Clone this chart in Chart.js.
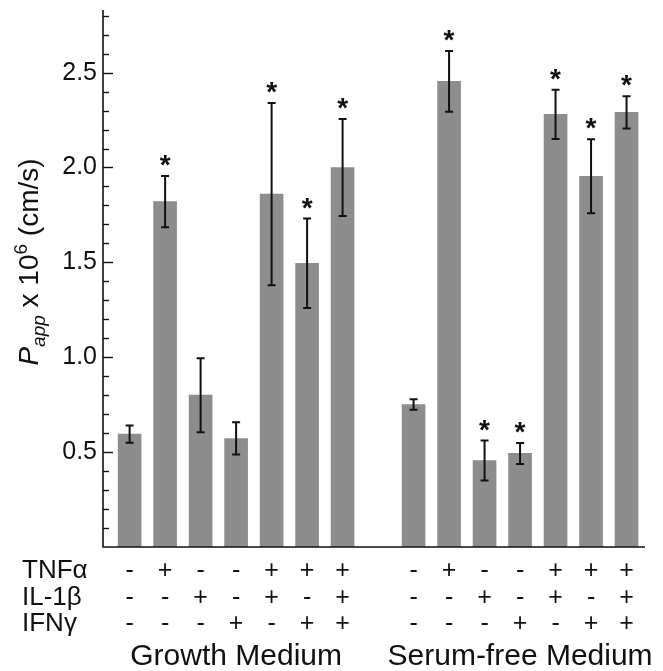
<!DOCTYPE html>
<html>
<head>
<meta charset="utf-8">
<script src="https://cdn.jsdelivr.net/npm/chart.js@4.4.1/dist/chart.umd.min.js"></script>
<style>
  html, body { margin: 0; padding: 0; background: #fff; }
  #wrap { width: 663px; height: 671px; position: relative; }
</style>
</head>
<body>
<div id="wrap"><canvas id="papp-graph"></canvas></div>
<script>
// groups and treatment table (rows under the bars)
const groups = ["Growth Medium", "Serum-free Medium"]
const rowNames = ["TNF\u03b1", "IL-1\u03b2", "IFN\u03b3"]
const tnf = ["-", "+", "-", "-", "+", "+", "+"]
const il1 = ["-", "-", "+", "-", "+", "-", "+"]
const ifn = ["-", "-", "-", "+", "-", "+", "+"]

// Papp x 10^6 (cm/s), mean and error
const growthMean = [0.595, 1.82, 0.80, 0.572, 1.86, 1.495, 2.00]
const growthErr = [0.045, 0.135, 0.195, 0.085, 0.48, 0.236, 0.256]
const growthSig = [false, true, false, false, true, true, true]

const serumMean = [0.751, 2.454, 0.456, 0.493, 2.28, 1.954, 2.291]
const serumErr = [0.028, 0.16, 0.105, 0.055, 0.13, 0.195, 0.085]
const serumSig = [false, true, true, true, true, true, true]

const yLabelTicks = [0.5, 1.0, 1.5, 2.0, 2.5]

const FONT = "'Liberation Sans', Arial, sans-serif"

// one empty slot between the two groups
const points = []
growthMean.forEach((v, i) => points.push({ x: i + 1, y: v, err: growthErr[i], sig: growthSig[i], g: 0, k: i }))
serumMean.forEach((v, i) => points.push({ x: i + 9, y: v, err: serumErr[i], sig: serumSig[i], g: 1, k: i }))

const extras = {
    id: "extras",
    afterDatasetsDraw(chart) {
        const ctx = chart.ctx
        const area = chart.chartArea
        const ys = chart.scales.y
        const meta = chart.getDatasetMeta(0)
        ctx.save()

        // axes lines
        ctx.strokeStyle = "#111"
        ctx.lineWidth = 1.6
        ctx.beginPath()
        ctx.moveTo(area.left, area.top)
        ctx.lineTo(area.left, area.bottom)
        ctx.lineTo(area.right, area.bottom)
        ctx.stroke()

        // inward ticks, 0.1 minor / 0.5 major
        ctx.lineWidth = 1.4
        for (let k = 1; k <= 28; k++) {
            const py = Math.round(ys.getPixelForValue(k / 10)) + 0.5
            const len = k % 5 === 0 ? 10 : 6
            ctx.beginPath()
            ctx.moveTo(area.left, py)
            ctx.lineTo(area.left + len, py)
            ctx.stroke()
        }

        // error bars + asterisks
        meta.data.forEach((bar, i) => {
            const p = points[i]
            const top = ys.getPixelForValue(p.y + p.err)
            const bot = ys.getPixelForValue(p.y - p.err)
            ctx.strokeStyle = "#111"
            ctx.lineWidth = 2
            ctx.beginPath()
            ctx.moveTo(bar.x, top)
            ctx.lineTo(bar.x, bot)
            ctx.moveTo(bar.x - 4, top)
            ctx.lineTo(bar.x + 4, top)
            ctx.moveTo(bar.x - 4, bot)
            ctx.lineTo(bar.x + 4, bot)
            ctx.stroke()
            if (p.sig) {
                ctx.fillStyle = "#111"
                ctx.font = "bold 28px " + FONT
                ctx.textAlign = "center"
                ctx.textBaseline = "alphabetic"
                ctx.fillText("*", bar.x, top - 2)
            }
        })

        // treatment table
        const rows = [tnf, il1, ifn]
        const rowY = [571, 598, 624]
        ctx.fillStyle = "#111"
        ctx.textBaseline = "middle"
        ctx.textAlign = "left"
        ctx.font = "26px " + FONT
        rowNames.forEach((n, r) => ctx.fillText(n, 22, rowY[r]))
        ctx.textAlign = "center"
        ctx.font = "25px " + FONT
        meta.data.forEach((bar, i) => {
            const p = points[i]
            rows.forEach((row, r) => ctx.fillText(row[p.k], bar.x, rowY[r]))
        })

        // group names
        ctx.font = "30px " + FONT
        groups.forEach((g, gi) => {
            const idx = points.map((p, i) => p.g === gi ? i : -1).filter(i => i >= 0)
            const x0 = meta.data[idx[0]].x
            const x1 = meta.data[idx[idx.length - 1]].x
            ctx.fillText(g, (x0 + x1) / 2, 657)
        })

        // y title: P_app x 10^6 (cm/s)
        const parts = [
            { t: "P", f: "italic 28px ", dy: 0 },
            { t: "app", f: "italic 19px ", dy: 7 },
            { t: " x 10", f: "28px ", dy: 0 },
            { t: "6", f: "19px ", dy: -11 },
            { t: " (cm/s)", f: "28px ", dy: 0 }
        ]
        let total = 0
        parts.forEach(s => { ctx.font = s.f + FONT; s.w = ctx.measureText(s.t).width; total += s.w })
        ctx.translate(38, 262)
        ctx.rotate(-Math.PI / 2)
        ctx.textAlign = "left"
        ctx.textBaseline = "alphabetic"
        let x = -total / 2
        parts.forEach(s => {
            ctx.font = s.f + FONT
            ctx.fillText(s.t, x, s.dy)
            x += s.w
        })
        ctx.restore()
    }
}

new Chart(document.getElementById("papp-graph"), {
    type: "bar",
    data: {
        datasets: [{
            data: points,
            backgroundColor: "#8d8d8d",
            borderWidth: 0,
            barThickness: 23
        }]
    },
    options: {
        responsive: true,
        maintainAspectRatio: false,
        animation: false,
        layout: { padding: { top: 10, right: 18, bottom: 124, left: 0 } },
        plugins: {
            legend: { display: false },
            tooltip: { enabled: false }
        },
        scales: {
            x: {
                type: "linear",
                display: false,
                offset: false,
                min: 0.25,
                max: 15.52
            },
            y: {
                min: 0,
                max: 2.83,
                grid: { display: false, drawTicks: false },
                border: { display: false },
                ticks: {
                    stepSize: 0.5,
                    includeBounds: false,
                    padding: 6,
                    color: "#111",
                    font: { family: FONT, size: 25 },
                    callback: v => yLabelTicks.some(t => Math.abs(t - v) < 1e-6) ? v.toFixed(1) : ""
                },
                afterFit(scale) {
                    scale.width = 103
                    scale.paddingTop = 0
                    scale.paddingBottom = 0
                }
            }
        }
    },
    plugins: [extras]
})
</script>
</body>
</html>
